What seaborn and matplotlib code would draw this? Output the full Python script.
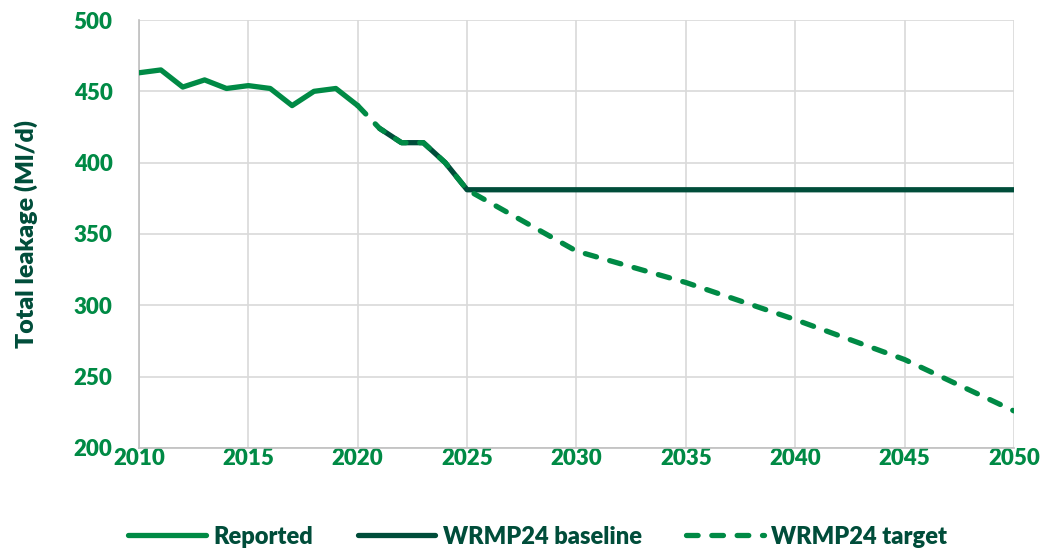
import pandas as pd
import numpy as np
import matplotlib.pyplot as plt
import seaborn as sns

# Valores
anos_reportado = [2010, 2011, 2012, 2013, 2014, 2015, 2016, 2017, 2018, 2019, 2020]
reportado = [463, 465, 453, 458, 452, 454, 452, 440, 450, 452, 440]

anos_base = [2021, 2022, 2023, 2024, 2025, 2030, 2035, 2040, 2045, 2050]
base = [424, 414, 414, 400, 381, 381, 381, 381, 381, 381]

anos_alvo = [2020, 2021, 2022, 2023, 2024, 2025, 2030, 2035, 2040, 2045, 2050]
alvo = [440, 424, 414, 414, 400, 381, 338, 316, 290, 262, 226]

verde = "#008A45"
verde_escuro = "#004D3A"
peso = "heavy"

sns.set_style("white")
plt.rcParams["font.family"] = ["Lato", "DejaVu Sans"]

fig = plt.figure(figsize=(10.42, 5.51), dpi=100)
ax = fig.add_axes([0.1334, 0.187, 0.8396, 0.7767])

df_rep = pd.DataFrame({"ano": anos_reportado, "valor": reportado})
df_base = pd.DataFrame({"ano": anos_base, "valor": base})
df_alvo = pd.DataFrame({"ano": anos_alvo, "valor": alvo})

sns.lineplot(data=df_base, x="ano", y="valor", ax=ax, color=verde_escuro,
             linewidth=3.8, label="WRMP24 baseline", zorder=3)
sns.lineplot(data=df_rep, x="ano", y="valor", ax=ax, color=verde,
             linewidth=3.8, label="Reported", zorder=4,
             solid_capstyle="round")
sns.lineplot(data=df_alvo, x="ano", y="valor", ax=ax, color=verde,
             linewidth=3.8, label="WRMP24 target", zorder=4,
             linestyle=(0, (2.2, 2.6)), dash_capstyle="round")

ax.set_xlim(2010, 2050)
ax.set_ylim(200, 500)
ax.set_xticks(np.arange(2010, 2051, 5))
ax.set_yticks(np.arange(200, 501, 50))
ax.grid(True, color="#D9D9D9", linewidth=1.2)
ax.set_axisbelow(True)
for lado in ["top", "right"]:
    ax.spines[lado].set_visible(False)
for lado in ["left", "bottom"]:
    ax.spines[lado].set_color("#BFBFBF")
    ax.spines[lado].set_linewidth(1.2)
ax.tick_params(axis="x", length=0, labelsize=16, labelcolor=verde, pad=0)
ax.tick_params(axis="y", length=0, labelsize=16, labelcolor=verde, pad=19)
for t in ax.get_xticklabels() + ax.get_yticklabels():
    t.set_fontweight(peso)
ax.set_xlabel("")
ax.set_ylabel("Total leakage (Ml/d)", fontsize=18, fontweight=peso,
              color=verde_escuro, labelpad=26)

handles, labels = ax.get_legend_handles_labels()
ax.get_legend().remove()
ordem = [labels.index(n) for n in ["Reported", "WRMP24 baseline", "WRMP24 target"]]
leg = fig.legend([handles[i] for i in ordem], [labels[i] for i in ordem],
                 loc="center", bbox_to_anchor=(0.516, 0.026), ncol=3,
                 frameon=False, fontsize=17, handlelength=3.3,
                 columnspacing=1.9, handletextpad=0.3)
for t in leg.get_texts():
    t.set_color(verde_escuro)
    t.set_fontweight(peso)

plt.savefig("out.png", dpi=100)
